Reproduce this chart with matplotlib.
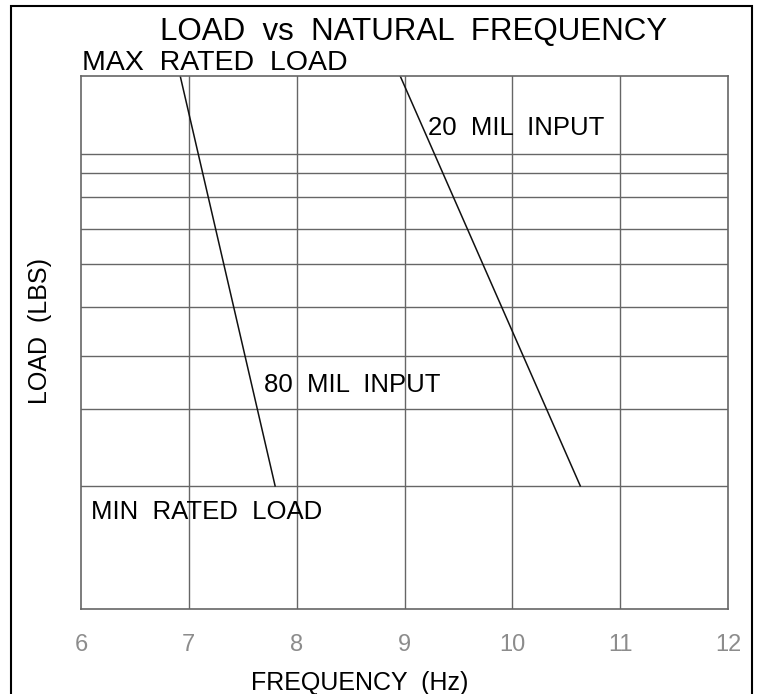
import matplotlib.pyplot as plt
from matplotlib.patches import Rectangle

# frequency axis (Hz)
freq_ticks = [6, 7, 8, 9, 10, 11, 12]

# load axis has no numbers on the chart, positions read off as 0..100 of the height
load_grid = [23.1, 37.5, 47.5, 56.7, 64.7, 71.3, 77.3, 81.8, 85.4]
load_min = 0
load_max = 100
min_rated_load = 23.1
max_rated_load = 100

# the two input curves (frequency, load)
freq_80mil = [6.92, 7.80]
load_80mil = [max_rated_load, min_rated_load]
freq_20mil = [8.96, 10.63]
load_20mil = [max_rated_load, min_rated_load]

font = ['Liberation Sans', 'DejaVu Sans']
grid_col = '#666666'


def main():
    plt.rcParams['font.family'] = font
    fig = plt.figure(figsize=(7.6, 6.94), dpi=100)
    ax = fig.add_axes([81 / 760, 85 / 694, 647 / 760, 533 / 694])

    ax.set_xlim(freq_ticks[0], freq_ticks[-1])
    ax.set_ylim(load_min, load_max)

    # grid
    for f in freq_ticks[1:-1]:
        ax.axvline(f, color=grid_col, lw=1.0)
    for l in load_grid:
        ax.axhline(l, color=grid_col, lw=1.0)

    # curves
    ax.plot(freq_80mil, load_80mil, color='#111111', lw=1.1)
    ax.plot(freq_20mil, load_20mil, color='#111111', lw=1.1)

    for s in ax.spines.values():
        s.set_color(grid_col)
        s.set_linewidth(1.2)

    ax.set_yticks([])
    ax.set_xticks(freq_ticks)
    ax.set_xticklabels([str(f) for f in freq_ticks], color='#8c8c8c',
                       fontsize=17)
    ax.tick_params(axis='x', length=0, pad=18)

    # labels on the chart
    ax.text(9.218, 88.9, '20  MIL  INPUT', fontsize=18.5,
            va='baseline', ha='left')
    ax.text(7.697, 40.7, '80  MIL  INPUT', fontsize=18.5,
            va='baseline', ha='left')
    ax.text(6.093, 16.9, 'MIN  RATED  LOAD', fontsize=18.5,
            va='baseline', ha='left')
    ax.text(6.01, 101.1, 'MAX  RATED  LOAD', fontsize=20.5,
            va='baseline', ha='left', clip_on=False)

    fig.text(414 / 760, (694 - 40) / 694, 'LOAD  vs  NATURAL  FREQUENCY',
             fontsize=22.5, va='baseline', ha='center')
    fig.text(360 / 760, (694 - 690) / 694, 'FREQUENCY  (Hz)', fontsize=18,
             va='baseline', ha='center')
    fig.text(40 / 760, (694 - 331) / 694, 'LOAD  (LBS)', fontsize=18,
             rotation=90, va='center', ha='center')

    # outer border of the drawing
    fig.patches.append(Rectangle((11 / 760, -0.1), 741 / 760, 1.1 - 6 / 694,
                                 transform=fig.transFigure, fill=False,
                                 edgecolor='black', lw=1.5))

    fig.savefig('out.png', dpi=100)


if __name__ == '__main__':
    main()
